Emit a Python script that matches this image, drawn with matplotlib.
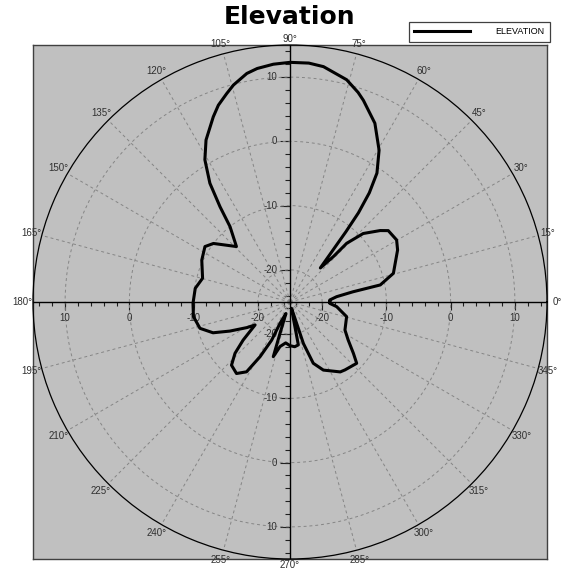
import matplotlib.pyplot as plt
import numpy as np
from matplotlib.lines import Line2D
from matplotlib.collections import LineCollection

# antenna elevation pattern, angle in degrees, gain in dB
ang = [0, 2.9, 6.5, 9.2, 10.7, 15.5, 25.8, 30.2, 36, 38.4, 43.1, 46, 46.3, 48.3,
       50.4, 51.5, 52.5, 54, 56, 59.6, 64.6, 70, 72, 75.7, 81.9, 85.5, 90,
       94, 98, 100.7, 104.6, 106.9, 110, 112.5, 117.4, 120.9, 124, 126.3, 128.5, 134,
       142.6, 146.9, 154.6, 164.8, 171.8, 180.8, 188.6, 196.3, 201.8, 205.8, 210.7, 213.3,
       219.1, 223, 227.2, 233.2, 238.1, 241.3, 244.3, 244.9, 250.5,
       252.3, 253, 257.4, 264, 270, 276, 281, 283, 286,
       287.9, 290.8, 296.1, 305.7, 309, 317.4, 321, 326.9, 333, 345.5, 354.3, 358, 360]
gain = [-18.8, -18.8, -17.7, -15.1, -10.7, -8.3, -6.4, -5.8, -6.1, -7.1, -9.4, -12.3, -15.2, -17.9,
        -14.5, -11.0, -7.5, -4.0, -0.8, 2.4, 5.8, 8.4, 9.3, 10.7, 12.0, 12.3, 12.3,
        12.1, 11.7, 11.2, 9.9, 8.9, 7.6, 6.2, 3.4, 0.8, -2.7, -6.6, -10.0, -13.0,
        -10.0, -9.2, -9.8, -10.9, -10.1, -9.9, -9.8, -10.4, -12.1, -14.6, -17.2, -18.5,
        -15.6, -13.3, -11.6, -11.1, -12.2, -15.3, -18.4, -21.3, -23.1,
        -19.9, -16.1, -17.9, -18.6, -18.2, -18.0, -18.2, -24.0, -23.2,
        -18.2, -14.8, -13.2, -11.6, -11.4, -10.9, -12.3, -14.2, -15.4, -15.9, -17.7, -18.8, -18.8]

rings = [-20, -10, 0, 10]
ring_labels = ['-20', '-10', '0', '10']
minor = np.arange(-24, 15, 2)
spokes = np.arange(0, 360, 15)
rmin, rmax = -25, 15

small = ['Liberation Sans', 'DejaVu Sans']
txtc = '#303030'

fig = plt.figure(figsize=(5.63, 5.74), dpi=100)
rect = [33 / 563, 15 / 574, 514 / 563, 514 / 574]

# grey square behind the polar chart, same units as the radius (dB above rmin)
span = rmax - rmin
bg = fig.add_axes(rect)
bg.set_facecolor('#c0c0c0')
bg.set_xlim(-span, span)
bg.set_ylim(-span, span)
bg.set_xticks([])
bg.set_yticks([])
for s in bg.spines.values():
    s.set_color('#404040')
    s.set_linewidth(1)

# tick marks on the cross (lengths in pixels -> data units)
px = 2 * span / 514
segs = []
for v in minor:
    d = v - rmin
    segs += [[(d, 0), (d, -4 * px)], [(-d, 0), (-d, -4 * px)],
             [(0, d), (-5 * px, d)], [(0, -d), (-5 * px, -d)]]
for v in rings:
    d = v - rmin
    segs += [[(d, 0), (d, -8 * px)], [(-d, 0), (-d, -8 * px)],
             [(0, d), (-10 * px, d)], [(0, -d), (-10 * px, -d)]]
bg.add_collection(LineCollection(segs, colors='#202020', linewidths=0.8))

ax = fig.add_axes(rect, projection='polar')
ax.patch.set_alpha(0)
ax.set_ylim(rmin, rmax)
ax.set_xticks(np.deg2rad(spokes))
ax.set_xticklabels([])
ax.set_yticks(rings)
ax.set_yticklabels([])
ax.grid(True, color='#858585', linestyle=(0, (3, 3)), linewidth=0.7)
ax.spines['polar'].set_color('black')
ax.spines['polar'].set_linewidth(0.9)

# axis cross through the centre
for a in [0, 90, 180, 270]:
    t = np.deg2rad(a)
    ax.plot([t, t], [rmin, rmax], color='black', lw=1, zorder=2)

# radial labels
for v, lab in zip(rings, ring_labels):
    for t in [0, np.pi]:
        ax.annotate(lab, xy=(t, v), xytext=(0, -11.5), textcoords='offset points',
                    ha='center', va='center', fontsize=7, color=txtc, family=small, zorder=3)
    for t in [np.pi / 2, 3 * np.pi / 2]:
        ax.annotate(lab, xy=(t, v), xytext=(-9, 0), textcoords='offset points',
                    ha='right', va='center', fontsize=7, color=txtc, family=small, zorder=3)

# angle labels
for a in spokes:
    r = 15.9 if a in (90, 270) else 16.6
    ax.text(np.deg2rad(a), r, f'{a}°', ha='center', va='center', fontsize=7,
            color=txtc, family=small, clip_on=False)

ax.plot(np.deg2rad(ang), gain, color='black', lw=2.2, zorder=5,
        solid_joinstyle='round')

fig.text(290 / 563, 1 - 17 / 574, 'Elevation', ha='center', va='center',
         fontsize=18, fontweight='bold', family='DejaVu Sans')

leg = fig.legend([Line2D([], [], color='black', lw=2.2)], ['ELEVATION'],
                 loc='upper right', bbox_to_anchor=(550 / 563, 1 - 22 / 574),
                 frameon=True, fancybox=False, framealpha=1, edgecolor='#404040',
                 prop={'family': small, 'size': 6.5}, handlelength=6.2,
                 handletextpad=2.8, borderpad=0.6, borderaxespad=0)
leg.get_frame().set_linewidth(0.9)

fig.savefig('out.png', dpi=100)
